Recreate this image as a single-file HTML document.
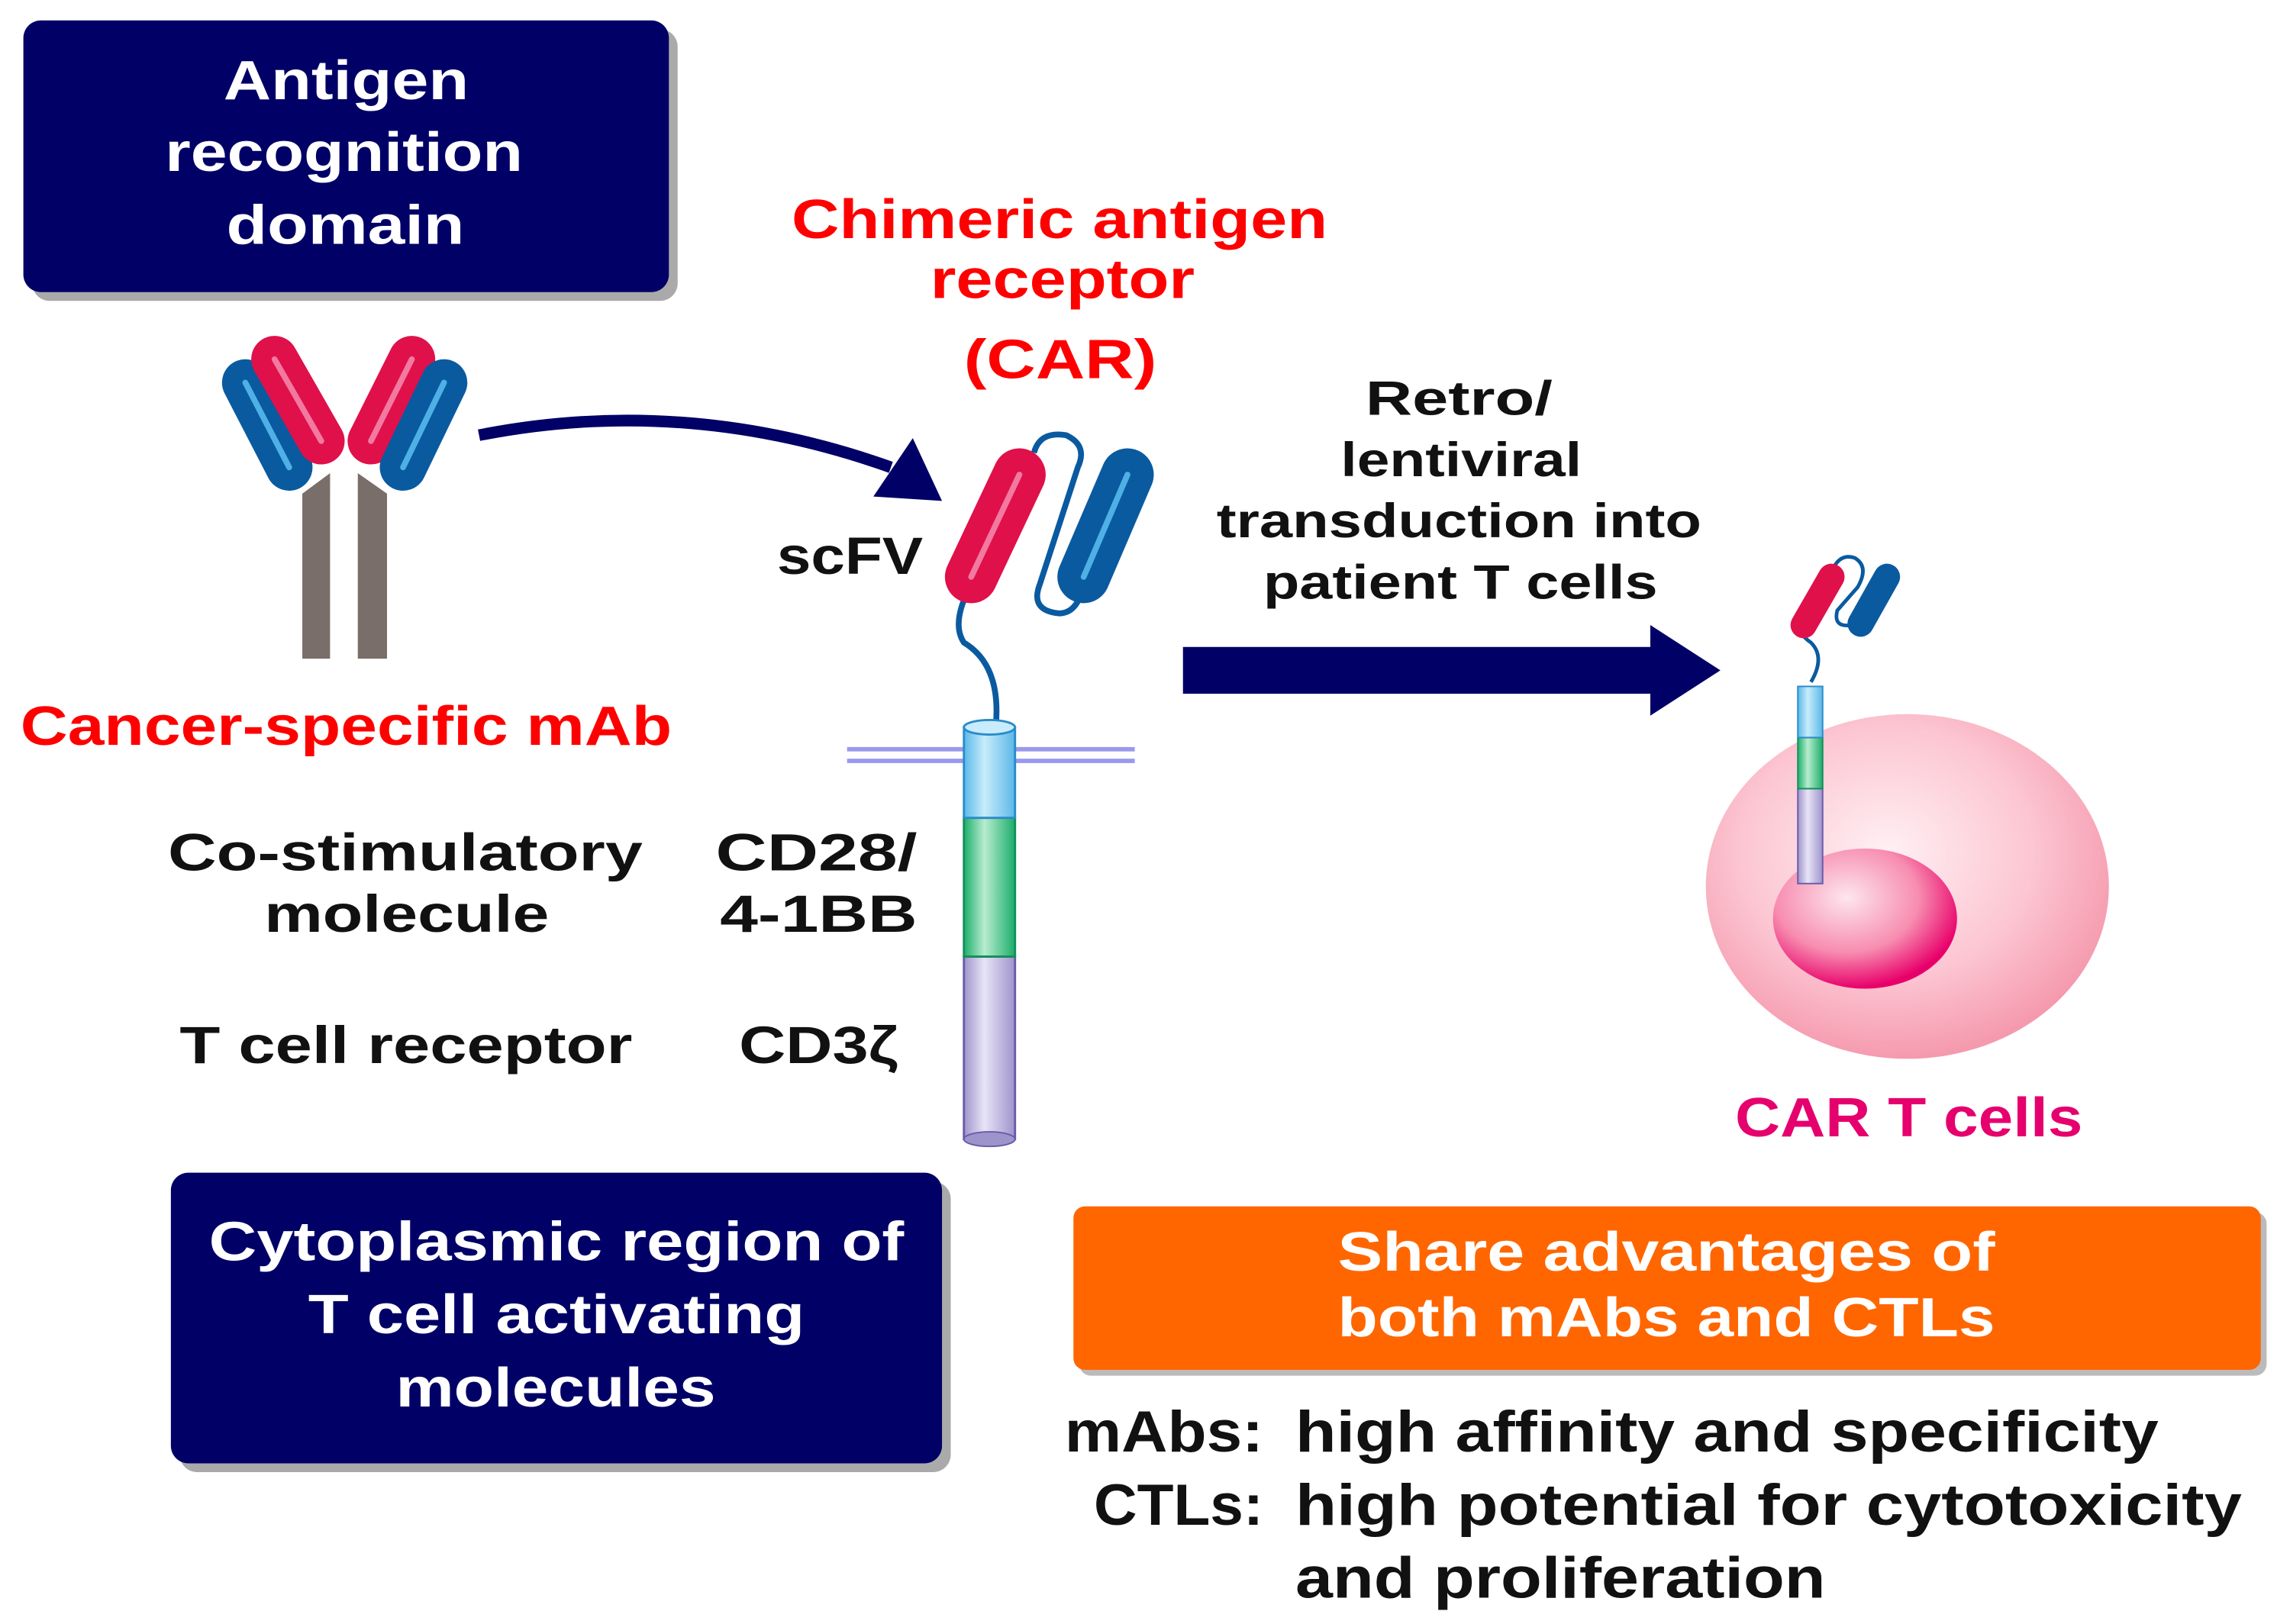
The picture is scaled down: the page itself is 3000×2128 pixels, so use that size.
<!DOCTYPE html>
<html><head><meta charset="utf-8"><style>
html,body{margin:0;padding:0;background:#fff;}
svg{display:block;}
text{font-family:"Liberation Sans","DejaVu Sans",sans-serif;font-weight:bold;}
</style></head><body>
<svg width="3000" height="2128" viewBox="0 0 1568 1112" preserveAspectRatio="none" xmlns="http://www.w3.org/2000/svg">
<defs>
<radialGradient id="cell" cx="0.45" cy="0.4" r="0.6"><stop offset="0" stop-color="#fff0f4"/><stop offset="0.6" stop-color="#fcc6d2"/><stop offset="1" stop-color="#f59aae"/></radialGradient>
<radialGradient id="nuc" cx="0.4" cy="0.35" r="0.65"><stop offset="0" stop-color="#fde6ee"/><stop offset="0.6" stop-color="#f78db0"/><stop offset="1" stop-color="#e8006a"/></radialGradient>
<linearGradient id="cylB" x1="0" x2="1"><stop offset="0" stop-color="#5ab8e8"/><stop offset="0.4" stop-color="#c8ecfb"/><stop offset="1" stop-color="#5ab8e8"/></linearGradient>
<linearGradient id="cylG" x1="0" x2="1"><stop offset="0" stop-color="#1cae6a"/><stop offset="0.4" stop-color="#b8ecd0"/><stop offset="1" stop-color="#1cae6a"/></linearGradient>
<linearGradient id="cylP" x1="0" x2="1"><stop offset="0" stop-color="#9e94cc"/><stop offset="0.4" stop-color="#e8e4f6"/><stop offset="1" stop-color="#9e94cc"/></linearGradient>
</defs>

<!-- Box 1 -->
<rect x="22" y="20" width="442" height="186" rx="12" fill="#aaa"/>
<rect x="16" y="14" width="442" height="186" rx="12" fill="#000066"/>
<g fill="#fff" font-size="38">
<text x="153" y="68" textLength="168" lengthAdjust="spacingAndGlyphs">Antigen</text>
<text x="113" y="117" textLength="245" lengthAdjust="spacingAndGlyphs">recognition</text>
<text x="155" y="167" textLength="163" lengthAdjust="spacingAndGlyphs">domain</text>
</g>

<g fill="#ff0000" font-size="38">
<text x="542" y="163" textLength="367" lengthAdjust="spacingAndGlyphs">Chimeric antigen</text>
<text x="637" y="204" textLength="181" lengthAdjust="spacingAndGlyphs">receptor</text>
<text x="660" y="259" textLength="132" lengthAdjust="spacingAndGlyphs">(CAR)</text>
</g>

<!-- Antibody -->
<g stroke-linecap="round">
<line x1="168" y1="262" x2="198" y2="320" stroke="#0a5aa0" stroke-width="32"/>
<line x1="168" y1="262" x2="198" y2="320" stroke="#4fb0e6" stroke-width="4"/>
<line x1="188" y1="246" x2="220" y2="302" stroke="#e0104a" stroke-width="32"/>
<line x1="188" y1="246" x2="220" y2="302" stroke="#f27aa0" stroke-width="4"/>
<line x1="282" y1="246" x2="254" y2="302" stroke="#e0104a" stroke-width="32"/>
<line x1="282" y1="246" x2="254" y2="302" stroke="#f27aa0" stroke-width="4"/>
<line x1="304" y1="262" x2="276" y2="320" stroke="#0a5aa0" stroke-width="32"/>
<line x1="304" y1="262" x2="276" y2="320" stroke="#4fb0e6" stroke-width="4"/>
</g>
<polygon points="207,338 226,324 226,451 207,451" fill="#7a6e6a"/>
<polygon points="245,324 265,338 265,451 245,451" fill="#7a6e6a"/>

<path d="M328,298 Q470,270 610,320" fill="none" stroke="#000066" stroke-width="8"/>
<polygon points="625,300 645,343 598,340" fill="#000066"/>

<text x="532" y="393" font-size="36" fill="#111" textLength="100" lengthAdjust="spacingAndGlyphs">scFV</text>

<!-- CAR -->
<path d="M708,310 Q712,295 730,298 Q745,305 738,320 L712,400 Q705,418 725,420 Q738,420 742,400" fill="none" stroke="#0a5aa0" stroke-width="4"/>
<path d="M668,395 Q650,425 660,440 Q685,455 682,495" fill="none" stroke="#0a5aa0" stroke-width="4"/>
<g stroke-linecap="round">
<line x1="698" y1="325" x2="665" y2="395" stroke="#e0104a" stroke-width="36"/>
<line x1="698" y1="325" x2="665" y2="395" stroke="#f27aa0" stroke-width="4"/>
<line x1="772" y1="325" x2="742" y2="395" stroke="#0a5aa0" stroke-width="36"/>
<line x1="772" y1="325" x2="742" y2="395" stroke="#4fb0e6" stroke-width="4"/>
</g>
<line x1="580" y1="513" x2="777" y2="513" stroke="#9999ee" stroke-width="3"/>
<line x1="580" y1="521" x2="777" y2="521" stroke="#9999ee" stroke-width="3"/>
<rect x="660" y="655" width="35" height="125" fill="url(#cylP)" stroke="#6a5aa8" stroke-width="1.5"/>
<ellipse cx="677.5" cy="780" rx="17.5" ry="5" fill="#9e94cc" stroke="#6a5aa8"/>
<rect x="660" y="560" width="35" height="95" fill="url(#cylG)" stroke="#12905a" stroke-width="1.5"/>
<rect x="660" y="498" width="35" height="62" fill="url(#cylB)" stroke="#2a8cc8" stroke-width="1.5"/>
<ellipse cx="677.5" cy="498" rx="17.5" ry="5" fill="#c8ecfb" stroke="#2a8cc8" stroke-width="1.5"/>

<text x="14" y="510" font-size="38" fill="#ff0000" textLength="446" lengthAdjust="spacingAndGlyphs">Cancer-specific mAb</text>
<g fill="#111" font-size="36">
<text x="115" y="596" textLength="325" lengthAdjust="spacingAndGlyphs">Co-stimulatory</text>
<text x="181" y="638" textLength="195" lengthAdjust="spacingAndGlyphs">molecule</text>
<text x="123" y="728" textLength="310" lengthAdjust="spacingAndGlyphs">T cell receptor</text>
<text x="490" y="596" textLength="138" lengthAdjust="spacingAndGlyphs">CD28/</text>
<text x="493" y="638" textLength="135" lengthAdjust="spacingAndGlyphs">4-1BB</text>
<text x="506" y="728" textLength="109" lengthAdjust="spacingAndGlyphs">CD3ζ</text>
</g>

<!-- Box 2 -->
<rect x="123" y="809" width="528" height="199" rx="12" fill="#aaa"/>
<rect x="117" y="803" width="528" height="199" rx="12" fill="#000066"/>
<g fill="#fff" font-size="38">
<text x="143" y="863" textLength="476" lengthAdjust="spacingAndGlyphs">Cytoplasmic region of</text>
<text x="211" y="913" textLength="340" lengthAdjust="spacingAndGlyphs">T cell activating</text>
<text x="271" y="963" textLength="219" lengthAdjust="spacingAndGlyphs">molecules</text>
</g>

<polygon points="810,443 1130,443 1130,428 1178,459 1130,490 1130,475 810,475" fill="#000066"/>
<g fill="#111" font-size="33">
<text x="935" y="284" textLength="128" lengthAdjust="spacingAndGlyphs">Retro/</text>
<text x="918" y="326" textLength="165" lengthAdjust="spacingAndGlyphs">lentiviral</text>
<text x="833" y="368" textLength="332" lengthAdjust="spacingAndGlyphs">transduction into</text>
<text x="865" y="410" textLength="270" lengthAdjust="spacingAndGlyphs">patient T cells</text>
</g>

<!-- cell -->
<ellipse cx="1306" cy="607" rx="138" ry="118" fill="url(#cell)"/>
<ellipse cx="1277" cy="629" rx="63" ry="48" fill="url(#nuc)"/>
<path d="M1236,411 Q1225,430 1240,440 Q1250,450 1240,467" fill="none" stroke="#0a5aa0" stroke-width="2.5"/>
<path d="M1253,395 Q1258,378 1270,382 Q1280,388 1272,402 L1258,418 Q1255,430 1268,428" fill="none" stroke="#0a5aa0" stroke-width="2.5"/>
<g stroke-linecap="round">
<line x1="1254" y1="395" x2="1235" y2="428" stroke="#e0104a" stroke-width="18"/>
<line x1="1292" y1="395" x2="1274" y2="427" stroke="#0a5aa0" stroke-width="18"/>
</g>
<rect x="1231" y="540" width="17" height="65" fill="url(#cylP)" stroke="#6a5aa8"/>
<rect x="1231" y="505" width="17" height="35" fill="url(#cylG)" stroke="#12905a"/>
<rect x="1231" y="470" width="17" height="35" fill="url(#cylB)" stroke="#2a8cc8"/>
<text x="1188" y="778" font-size="38" fill="#e6006e" textLength="238" lengthAdjust="spacingAndGlyphs">CAR T cells</text>

<rect x="739" y="830" width="813" height="112" rx="8" fill="#bbb"/>
<rect x="735" y="826" width="813" height="112" rx="8" fill="#ff6600"/>
<g fill="#fff" font-size="38">
<text x="916" y="870" textLength="450" lengthAdjust="spacingAndGlyphs">Share advantages of</text>
<text x="916" y="915" textLength="450" lengthAdjust="spacingAndGlyphs">both mAbs and CTLs</text>
</g>

<g fill="#111" font-size="40">
<text x="729" y="994" textLength="136" lengthAdjust="spacingAndGlyphs">mAbs:</text>
<text x="749" y="1044" textLength="116" lengthAdjust="spacingAndGlyphs">CTLs:</text>
<text x="887" y="994" textLength="591" lengthAdjust="spacingAndGlyphs">high affinity and specificity</text>
<text x="887" y="1044" textLength="648" lengthAdjust="spacingAndGlyphs">high potential for cytotoxicity</text>
<text x="887" y="1094" textLength="363" lengthAdjust="spacingAndGlyphs">and proliferation</text>
</g>
</svg>
</body></html>
